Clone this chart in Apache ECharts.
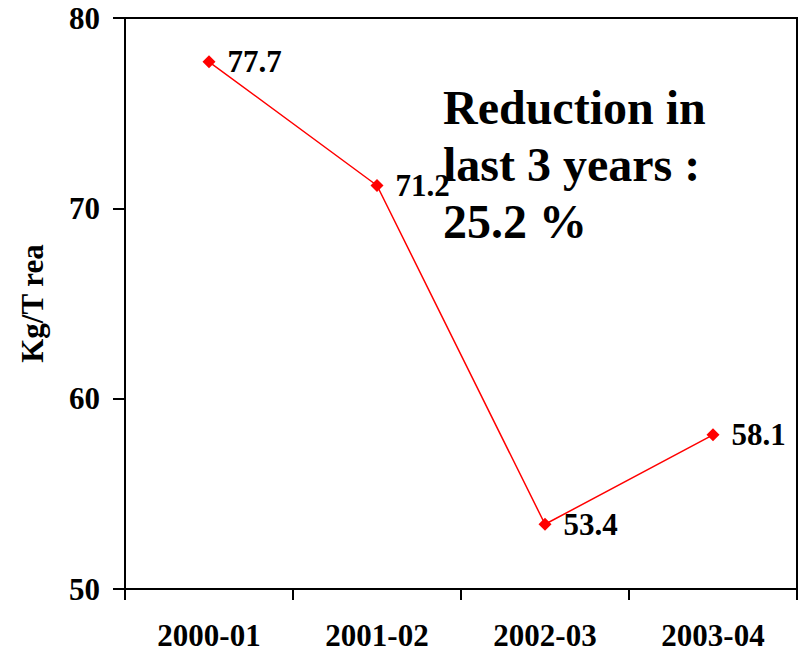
<!DOCTYPE html>
<html>
<head>
<meta charset="utf-8">
<title>Kg/T rea</title>
<script src="https://cdn.jsdelivr.net/npm/echarts@6/dist/echarts.min.js"></script>
<style>
  html, body { margin: 0; padding: 0; background: #ffffff; }
  #chart { width: 803px; height: 652px; }
</style>
</head>
<body>
<div id="chart"></div>
<script>
// Seasons on the category axis
const seasons = ['2000-01', '2001-02', '2002-03', '2003-04'];
// Consumption per tonne, one value per season
const kgPerTonne = [77.7, 71.2, 53.4, 58.1];
// Value axis range and step
const yMin = 50;
const yMax = 80;
const yStep = 10;
// Call-out text lines
const noteLines = ['Reduction in', 'last 3 years :', '25.2 %'];

const serif = '"Liberation Serif", "Times New Roman", Times, serif';

const chart = echarts.init(document.getElementById('chart'), null, { renderer: 'svg' });

chart.setOption({
  backgroundColor: '#ffffff',
  animation: false,
  grid: {
    left: 125,
    right: 6,
    top: 18,
    bottom: 63,
    show: true,
    borderColor: '#000000',
    borderWidth: 2,
    backgroundColor: 'transparent'
  },
  xAxis: {
    type: 'category',
    data: seasons,
    boundaryGap: true,
    axisLine: { show: true, lineStyle: { color: '#000000', width: 2 } },
    axisTick: { show: true, length: 11, lineStyle: { color: '#000000', width: 2 } },
    axisLabel: {
      margin: 31,
      color: '#000000',
      fontFamily: serif,
      fontWeight: 'bold',
      fontSize: 31
    },
    splitLine: { show: false }
  },
  yAxis: {
    type: 'value',
    min: yMin,
    max: yMax,
    interval: yStep,
    name: 'Kg/T rea',
    nameLocation: 'middle',
    nameRotate: 90,
    nameGap: 77,
    nameTextStyle: {
      color: '#000000',
      fontFamily: serif,
      fontWeight: 'bold',
      fontSize: 31
    },
    axisLine: { show: true, lineStyle: { color: '#000000', width: 2 } },
    axisTick: { show: true, length: 12, lineStyle: { color: '#000000', width: 2 } },
    axisLabel: {
      margin: 25,
      color: '#000000',
      fontFamily: serif,
      fontWeight: 'bold',
      fontSize: 31
    },
    splitLine: { show: false }
  },
  series: [{
    type: 'line',
    data: kgPerTonne,
    symbol: 'diamond',
    symbolSize: 13,
    lineStyle: { color: '#ff0000', width: 1.5 },
    itemStyle: { color: '#ff0000' },
    label: {
      show: true,
      position: 'right',
      distance: 12,
      color: '#000000',
      fontFamily: serif,
      fontWeight: 'bold',
      fontSize: 31
    }
  }],
  graphic: [{
    type: 'text',
    left: 443,
    top: 79,
    z: 10,
    style: {
      text: noteLines.join('\n'),
      fill: '#000000',
      fontFamily: serif,
      fontWeight: 'bold',
      fontSize: 48,
      lineHeight: 57
    }
  }]
});
</script>
</body>
</html>
